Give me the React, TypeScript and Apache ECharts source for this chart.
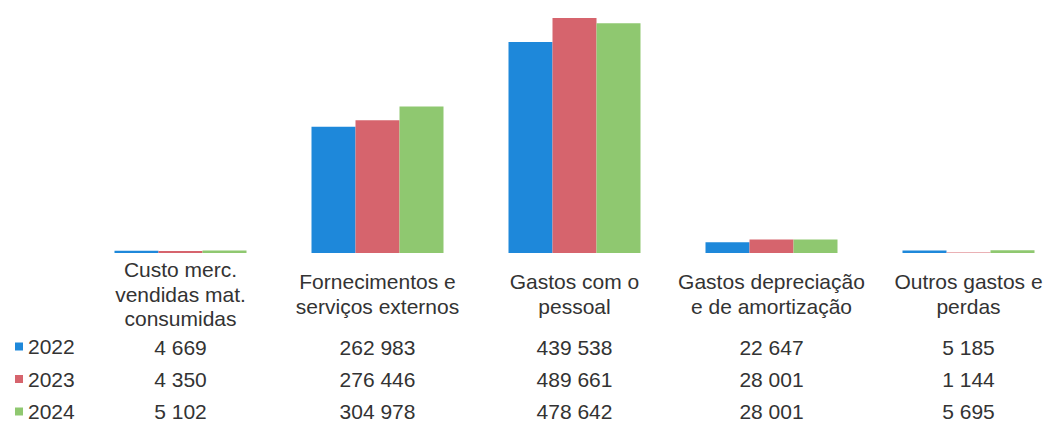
import React, { useEffect, useRef } from "react";
import * as echarts from "echarts";

const categories = [
  "Custo merc.\nvendidas mat.\nconsumidas",
  "Fornecimentos e\nserviços externos",
  "Gastos com o\npessoal",
  "Gastos depreciação\ne de amortização",
  "Outros gastos e\nperdas",
];
const years = ["2022", "2023", "2024"];
const values2022 = [4669, 262983, 439538, 22647, 5185];
const values2023 = [4350, 276446, 489661, 28001, 1144];
const values2024 = [5102, 304978, 478642, 28001, 5695];
const colors = ["#1E88DA", "#D6646D", "#8FC870"];

const fmt = (n: number) => String(n).replace(/\B(?=(\d{3})+(?!\d))/g, " ");

export default function App() {
  const ref = useRef<HTMLDivElement>(null);
  useEffect(() => {
    document.body.style.margin = "0";
    document.body.style.overflow = "hidden";
    const chart = echarts.init(ref.current!, null, { renderer: "svg" });
    const seriesData = [values2022, values2023, values2024];
    const font = "'Liberation Sans', Arial, sans-serif";
    const rowMargins = [94, 126, 158];
    const valueAxes = seriesData.map((vals, i) => ({
      type: "category" as const,
      data: vals.map(fmt),
      position: "bottom" as const,
      gridIndex: 0,
      axisLine: { show: false },
      axisTick: { show: false },
      axisLabel: {
        interval: 0,
        margin: rowMargins[i],
        verticalAlign: "middle" as const,
        fontSize: 21,
        fontFamily: font,
        color: "#333",
      },
    }));
    chart.setOption({
      animation: false,
      color: colors,
      grid: { left: 82, width: 985, top: 13, height: 240 },
      legend: {
        data: years,
        orient: "vertical",
        left: 10,
        top: 331,
        icon: "rect",
        itemWidth: 8,
        itemHeight: 8,
        itemGap: 11.5,
        textStyle: { fontSize: 21, fontFamily: font, color: "#333" },
      },
      xAxis: [
        {
          type: "category",
          data: categories,
          axisLine: { show: false },
          axisTick: { show: false },
          axisLabel: {
            interval: 0,
            margin: 41,
            verticalAlign: "middle",
            fontSize: 21,
            lineHeight: 24.5,
            fontFamily: font,
            color: "#333",
          },
        },
        ...valueAxes,
      ],
      yAxis: {
        type: "value",
        min: 0,
        max: 500000,
        show: false,
        splitLine: { show: false },
      },
      series: seriesData.map((vals, i) => ({
        name: years[i],
        type: "bar",
        xAxisIndex: 0,
        data: vals,
        barWidth: 44,
        barGap: "0%",
      })),
    });
    return () => chart.dispose();
  }, []);
  return <div ref={ref} style={{ width: 1070, height: 440 }} />;
}
